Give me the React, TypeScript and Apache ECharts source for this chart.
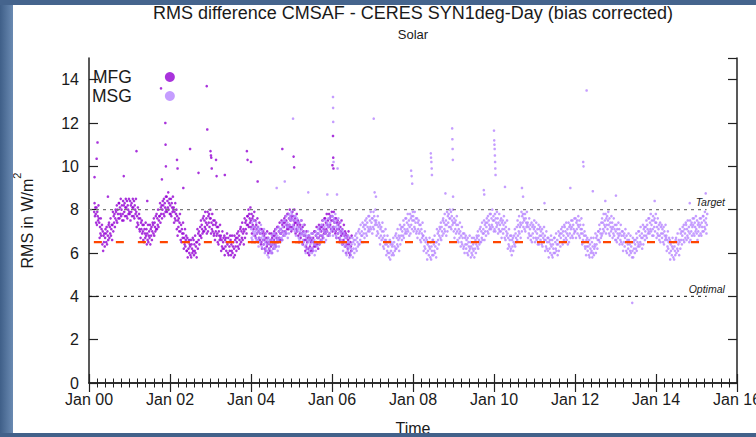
import { useEffect, useRef } from 'react';
import * as echarts from 'echarts';

const TITLE = 'RMS difference CMSAF - CERES SYN1deg-Day (bias corrected)';
const SUBTITLE = 'Solar';
const X_LABEL = 'Time';
const Y_LABEL = '{base|RMS in W/m}{sup|2}';

const TARGET = 8;
const OPTIMAL = 4;
const MEAN = 6.5;
const REF_LINE_YEARS = [2000, 2015.25];
const MFG_MEAN_YEARS = [2000.12, 2006.5];
const MSG_MEAN_YEARS = [2004.0, 2015.22];

// readings spread evenly over [start, end] of each year (about two per week)
const mfg2000 = [
  7.9, 8.3, 7.7, 8.1,
  7.8, 7.4, 8.1, 7.3, 7.9, 7.7, 7.5, 8.2, 7.6,
  7.4, 6.7, 7.2, 6.9, 7.6, 6.8, 7.1, 7.3,
  6.4, 7.0, 6.1, 6.8, 6.5, 6.9, 6.3, 6.7, 7.1,
  6.9, 6.5, 7.2, 6.4, 7.0, 6.8, 6.6, 7.3,
  7.4, 6.7, 7.2, 6.9, 7.6, 6.8, 7.1, 7.3, 6.6,
  7.3, 7.9, 7.0, 7.7, 7.4, 7.8, 7.2, 7.6, 8.0,
  7.9, 7.5, 8.2, 7.4, 8.0, 7.8, 7.6, 8.3,
  8.3, 7.6, 8.1, 7.8, 8.5, 7.7, 8.0, 8.2, 7.5,
  7.8, 8.4, 7.5, 8.2, 7.9, 8.3, 7.7, 8.1, 8.5,
  8.1, 7.7, 8.4, 7.6, 8.2, 8.0, 7.8, 8.5, 7.9,
];
const mfg2001 = [
  7.8, 8.4, 7.5, 8.2, 7.9, 8.3, 7.7, 8.1, 8.5,
  8.1, 7.7, 8.4, 7.6, 8.2, 8.0, 7.8, 8.5,
  7.9, 7.2, 7.7, 7.4, 8.1, 7.3, 7.6, 7.8, 7.1,
  7.0, 7.6, 6.7, 7.4, 7.1, 7.5, 6.9, 7.3,
  7.0, 6.6, 7.3, 6.5, 7.1, 6.9, 6.7, 7.4, 6.8,
  7.1, 6.4, 6.9, 6.6, 7.3, 6.5, 6.8, 7.0,
  6.7, 7.3, 6.4, 7.1, 6.8, 7.2, 6.6, 7.0, 7.4,
  7.3, 6.9, 7.6, 6.8, 7.4, 7.2, 7.0, 7.7, 7.1,
  7.8, 7.1, 7.6, 7.3, 8.0, 7.2, 7.5, 7.7,
  7.7, 8.3, 7.4, 8.1, 7.8, 8.2, 7.6, 8.0, 8.4,
  8.2, 7.8, 8.5, 7.7, 8.3, 8.1, 7.9, 8.6, 8.0,
  8.6, 7.9, 8.4, 8.1, 8.8, 8.0, 8.3, 8.5, 7.8,
];
const mfg2002 = [
  8.2, 7.8, 8.5, 7.7, 8.3, 8.1, 7.9, 8.6, 8.0,
  8.1, 7.4, 7.9, 7.6, 8.3, 7.5, 7.8, 8.0,
  7.1, 7.7, 6.8, 7.5, 7.2, 7.6, 7.0, 7.4, 7.8,
  7.0, 6.6, 7.3, 6.5, 7.1, 6.9, 6.7, 7.4,
  6.9, 6.2, 6.7, 6.4, 7.1, 6.3, 6.6, 6.8, 6.1,
  6.1, 6.7, 5.8, 6.5, 6.2, 6.6, 6.0, 6.4,
  6.3, 5.9, 6.6, 5.8, 6.4, 6.2, 6.0, 6.7, 6.1,
  6.6, 5.9, 6.4, 6.1, 6.8, 6.0, 6.3, 6.5, 5.8,
  6.5, 7.1, 6.2, 6.9, 6.6, 7.0, 6.4, 6.8,
  7.2, 6.8, 7.5, 6.7, 7.3, 7.1, 6.9, 7.6, 7.0,
  7.7, 7.0, 7.5, 7.2, 7.9, 7.1, 7.4, 7.6, 6.9,
  7.3, 7.9, 7.0, 7.7, 7.4, 7.8, 7.2, 7.6, 8.0,
];
const mfg2003 = [
  7.6, 6.9, 7.4, 7.1, 7.8, 7.0, 7.3, 7.5, 6.8,
  6.9, 7.5, 6.6, 7.3, 7.0, 7.4, 6.8, 7.2,
  6.9, 6.5, 7.2, 6.4, 7.0, 6.8, 6.6, 7.3, 6.7,
  6.8, 6.1, 6.6, 6.3, 7.0, 6.2, 6.5, 6.7,
  6.2, 6.8, 5.9, 6.6, 6.3, 6.7, 6.1, 6.5, 6.9,
  6.4, 6.0, 6.7, 5.9, 6.5, 6.3, 6.1, 6.8,
  6.6, 5.9, 6.4, 6.1, 6.8, 6.0, 6.3, 6.5, 5.8,
  6.2, 6.8, 5.9, 6.6, 6.3, 6.7, 6.1, 6.5, 6.9,
  6.7, 6.3, 7.0, 6.2, 6.8, 6.6, 6.4, 7.1,
  7.2, 6.5, 7.0, 6.7, 7.4, 6.6, 6.9, 7.1, 6.4,
  7.0, 7.6, 6.7, 7.4, 7.1, 7.5, 6.9, 7.3, 7.7,
  7.7, 7.3, 8.0, 7.2, 7.8, 7.6, 7.4, 8.1, 7.5,
];
const mfg2004 = [
  7.2, 7.8, 6.9, 7.6, 7.3, 7.7, 7.1, 7.5, 7.9,
  7.2, 6.8, 7.5, 6.7, 7.3, 7.1, 6.9, 7.6,
  7.2, 6.5, 7.0, 6.7, 7.4, 6.6, 6.9, 7.1, 6.4,
  6.5, 7.1, 6.2, 6.9, 6.6, 7.0, 6.4, 6.8,
  6.6, 6.2, 6.9, 6.1, 6.7, 6.5, 6.3, 7.0, 6.4,
  6.7, 6.0, 6.5, 6.2, 6.9, 6.1, 6.4, 6.6,
  6.3, 6.9, 6.0, 6.7, 6.4, 6.8, 6.2, 6.6, 7.0,
  6.8, 6.4, 7.1, 6.3, 6.9, 6.7, 6.5, 7.2, 6.6,
  7.2, 6.5, 7.0, 6.7, 7.4, 6.6, 6.9, 7.1,
  6.9, 7.5, 6.6, 7.3, 7.0, 7.4, 6.8, 7.2, 7.6,
  7.4, 7.0, 7.7, 6.9, 7.5, 7.3, 7.1, 7.8, 7.2,
  7.8, 7.1, 7.6, 7.3, 8.0, 7.2, 7.5, 7.7, 7.0,
];
const mfg2005 = [
  7.6, 7.2, 7.9, 7.1, 7.7, 7.5, 7.3, 8.0, 7.4,
  7.6, 6.9, 7.4, 7.1, 7.8, 7.0, 7.3, 7.5,
  6.8, 7.4, 6.5, 7.2, 6.9, 7.3, 6.7, 7.1, 7.5,
  6.9, 6.5, 7.2, 6.4, 7.0, 6.8, 6.6, 7.3,
  6.8, 6.1, 6.6, 6.3, 7.0, 6.2, 6.5, 6.7, 6.0,
  6.2, 6.8, 5.9, 6.6, 6.3, 6.7, 6.1, 6.5,
  6.6, 6.2, 6.9, 6.1, 6.7, 6.5, 6.3, 7.0, 6.4,
  7.0, 6.3, 6.8, 6.5, 7.2, 6.4, 6.7, 6.9, 6.2,
  6.7, 7.3, 6.4, 7.1, 6.8, 7.2, 6.6, 7.0,
  7.2, 6.8, 7.5, 6.7, 7.3, 7.1, 6.9, 7.6, 7.0,
  7.6, 6.9, 7.4, 7.1, 7.8, 7.0, 7.3, 7.5, 6.8,
  7.2, 7.8, 6.9, 7.6, 7.3, 7.7, 7.1, 7.5, 7.9,
];
const mfg2006 = [
  7.7, 7.0, 7.5, 7.2, 7.9, 7.1, 7.4, 7.6, 6.9,
  7.0, 7.6, 6.7, 7.4, 7.1, 7.5, 6.9, 7.3,
  7.1, 6.7, 7.4, 6.6, 7.2, 7.0, 6.8, 7.5, 6.9,
  7.1, 6.4, 6.9, 6.6, 7.3, 6.5, 6.8, 7.0,
  6.3, 6.9, 6.0, 6.7, 6.4, 6.8, 6.2, 6.6, 7.0,
  6.4, 6.0, 6.7, 5.9, 6.5, 6.3, 6.1, 6.8,
];

const msg2004 = [
  7.1, 6.7, 7.4, 6.6, 7.2, 7.0, 6.8, 7.5, 6.9,
  7.2, 6.5, 7.0, 6.7, 7.4, 6.6, 6.9, 7.1,
  6.6, 7.2, 6.3, 7.0, 6.7, 7.1, 6.5, 6.9, 7.3,
  6.7, 6.3, 7.0, 6.2, 6.8, 6.6, 6.4, 7.1,
  6.7, 6.0, 6.5, 6.2, 6.9, 6.1, 6.4, 6.6, 5.9,
  6.1, 6.7, 5.8, 6.5, 6.2, 6.6, 6.0, 6.4,
  6.5, 6.1, 6.8, 6.0, 6.6, 6.4, 6.2, 6.9, 6.3,
  6.9, 6.2, 6.7, 6.4, 7.1, 6.3, 6.6, 6.8, 6.1,
  6.6, 7.2, 6.3, 7.0, 6.7, 7.1, 6.5, 6.9,
  7.1, 6.7, 7.4, 6.6, 7.2, 7.0, 6.8, 7.5, 6.9,
  7.5, 6.8, 7.3, 7.0, 7.7, 6.9, 7.2, 7.4, 6.7,
  7.2, 7.8, 6.9, 7.6, 7.3, 7.7, 7.1, 7.5, 7.9,
];
const msg2005 = [
  7.8, 7.1, 7.6, 7.3, 8.0, 7.2, 7.5, 7.7, 7.0,
  7.1, 7.7, 6.8, 7.5, 7.2, 7.6, 7.0, 7.4,
  7.1, 6.7, 7.4, 6.6, 7.2, 7.0, 6.8, 7.5, 6.9,
  7.1, 6.4, 6.9, 6.6, 7.3, 6.5, 6.8, 7.0,
  6.3, 6.9, 6.0, 6.7, 6.4, 6.8, 6.2, 6.6, 7.0,
  6.5, 6.1, 6.8, 6.0, 6.6, 6.4, 6.2, 6.9,
  6.7, 6.0, 6.5, 6.2, 6.9, 6.1, 6.4, 6.6, 5.9,
  6.4, 7.0, 6.1, 6.8, 6.5, 6.9, 6.3, 6.7, 7.1,
  6.9, 6.5, 7.2, 6.4, 7.0, 6.8, 6.6, 7.3,
  7.3, 6.6, 7.1, 6.8, 7.5, 6.7, 7.0, 7.2, 6.5,
  6.9, 7.5, 6.6, 7.3, 7.0, 7.4, 6.8, 7.2, 7.6,
  7.3, 6.9, 7.6, 6.8, 7.4, 7.2, 7.0, 7.7, 7.1,
];
const msg2006 = [
  7.1, 7.7, 6.8, 7.5, 7.2, 7.6, 7.0, 7.4, 7.8,
  7.2, 6.8, 7.5, 6.7, 7.3, 7.1, 6.9, 7.6,
  7.2, 6.5, 7.0, 6.7, 7.4, 6.6, 6.9, 7.1, 6.4,
  6.4, 7.0, 6.1, 6.8, 6.5, 6.9, 6.3, 6.7,
  6.4, 6.0, 6.7, 5.9, 6.5, 6.3, 6.1, 6.8, 6.2,
  6.5, 5.8, 6.3, 6.0, 6.7, 5.9, 6.2, 6.4,
  6.1, 6.7, 5.8, 6.5, 6.2, 6.6, 6.0, 6.4, 6.8,
  6.6, 6.2, 6.9, 6.1, 6.7, 6.5, 6.3, 7.0, 6.4,
  7.1, 6.4, 6.9, 6.6, 7.3, 6.5, 6.8, 7.0,
  6.8, 7.4, 6.5, 7.2, 6.9, 7.3, 6.7, 7.1, 7.5,
  7.3, 6.9, 7.6, 6.8, 7.4, 7.2, 7.0, 7.7, 7.1,
  7.7, 7.0, 7.5, 7.2, 7.9, 7.1, 7.4, 7.6, 6.9,
];
const msg2007 = [
  7.6, 7.2, 7.9, 7.1, 7.7, 7.5, 7.3, 8.0, 7.4,
  7.5, 6.8, 7.3, 7.0, 7.7, 6.9, 7.2, 7.4,
  6.7, 7.3, 6.4, 7.1, 6.8, 7.2, 6.6, 7.0, 7.4,
  6.7, 6.3, 7.0, 6.2, 6.8, 6.6, 6.4, 7.1,
  6.6, 5.9, 6.4, 6.1, 6.8, 6.0, 6.3, 6.5, 5.8,
  6.0, 6.6, 5.7, 6.4, 6.1, 6.5, 5.9, 6.3,
  6.4, 6.0, 6.7, 5.9, 6.5, 6.3, 6.1, 6.8, 6.2,
  6.9, 6.2, 6.7, 6.4, 7.1, 6.3, 6.6, 6.8, 6.1,
  6.7, 7.3, 6.4, 7.1, 6.8, 7.2, 6.6, 7.0,
  7.2, 6.8, 7.5, 6.7, 7.3, 7.1, 6.9, 7.6, 7.0,
  7.6, 6.9, 7.4, 7.1, 7.8, 7.0, 7.3, 7.5, 6.8,
  7.2, 7.8, 6.9, 7.6, 7.3, 7.7, 7.1, 7.5, 7.9,
];
const msg2008 = [
  7.7, 7.0, 7.5, 7.2, 7.9, 7.1, 7.4, 7.6, 6.9,
  7.0, 7.6, 6.7, 7.4, 7.1, 7.5, 6.9, 7.3,
  7.0, 6.6, 7.3, 6.5, 7.1, 6.9, 6.7, 7.4, 6.8,
  6.8, 6.1, 6.6, 6.3, 7.0, 6.2, 6.5, 6.7,
  6.0, 6.6, 5.7, 6.4, 6.1, 6.5, 5.9, 6.3, 6.7,
  6.2, 5.8, 6.5, 5.7, 6.3, 6.1, 5.9, 6.6,
  6.6, 5.9, 6.4, 6.1, 6.8, 6.0, 6.3, 6.5, 5.8,
  6.5, 7.1, 6.2, 6.9, 6.6, 7.0, 6.4, 6.8, 7.2,
  7.1, 6.7, 7.4, 6.6, 7.2, 7.0, 6.8, 7.5,
  7.6, 6.9, 7.4, 7.1, 7.8, 7.0, 7.3, 7.5, 6.8,
  7.3, 7.9, 7.0, 7.7, 7.4, 7.8, 7.2, 7.6, 8.0,
  7.6, 7.2, 7.9, 7.1, 7.7, 7.5, 7.3, 8.0, 7.4,
];
const msg2009 = [
  7.0, 7.6, 6.7, 7.4, 7.1, 7.5, 6.9, 7.3, 7.7,
  7.0, 6.6, 7.3, 6.5, 7.1, 6.9, 6.7, 7.4,
  7.0, 6.3, 6.8, 6.5, 7.2, 6.4, 6.7, 6.9, 6.2,
  6.3, 6.9, 6.0, 6.7, 6.4, 6.8, 6.2, 6.6,
  6.4, 6.0, 6.7, 5.9, 6.5, 6.3, 6.1, 6.8, 6.2,
  6.5, 5.8, 6.3, 6.0, 6.7, 5.9, 6.2, 6.4,
  6.1, 6.7, 5.8, 6.5, 6.2, 6.6, 6.0, 6.4, 6.8,
  6.7, 6.3, 7.0, 6.2, 6.8, 6.6, 6.4, 7.1, 6.5,
  7.2, 6.5, 7.0, 6.7, 7.4, 6.6, 6.9, 7.1,
  6.9, 7.5, 6.6, 7.3, 7.0, 7.4, 6.8, 7.2, 7.6,
  7.4, 7.0, 7.7, 6.9, 7.5, 7.3, 7.1, 7.8, 7.2,
  7.8, 7.1, 7.6, 7.3, 8.0, 7.2, 7.5, 7.7, 7.0,
];
const msg2010 = [
  7.5, 7.1, 7.8, 7.0, 7.6, 7.4, 7.2, 7.9, 7.3,
  7.6, 6.9, 7.4, 7.1, 7.8, 7.0, 7.3, 7.5,
  7.0, 7.6, 6.7, 7.4, 7.1, 7.5, 6.9, 7.3, 7.7,
  7.1, 6.7, 7.4, 6.6, 7.2, 7.0, 6.8, 7.5,
  6.9, 6.2, 6.7, 6.4, 7.1, 6.3, 6.6, 6.8, 6.1,
  6.2, 6.8, 5.9, 6.6, 6.3, 6.7, 6.1, 6.5,
  6.8, 6.4, 7.1, 6.3, 6.9, 6.7, 6.5, 7.2, 6.6,
  7.5, 6.8, 7.3, 7.0, 7.7, 6.9, 7.2, 7.4, 6.7,
  7.3, 7.9, 7.0, 7.7, 7.4, 7.8, 7.2, 7.6,
  7.5, 7.1, 7.8, 7.0, 7.6, 7.4, 7.2, 7.9, 7.3,
  7.4, 6.7, 7.2, 6.9, 7.6, 6.8, 7.1, 7.3, 6.6,
  6.8, 7.4, 6.5, 7.2, 6.9, 7.3, 6.7, 7.1, 7.5,
];
const msg2011 = [
  7.2, 6.5, 7.0, 6.7, 7.4, 6.6, 6.9, 7.1, 6.4,
  6.7, 7.3, 6.4, 7.1, 6.8, 7.2, 6.6, 7.0,
  6.8, 6.4, 7.1, 6.3, 6.9, 6.7, 6.5, 7.2, 6.6,
  6.8, 6.1, 6.6, 6.3, 7.0, 6.2, 6.5, 6.7,
  6.1, 6.7, 5.8, 6.5, 6.2, 6.6, 6.0, 6.4, 6.8,
  6.3, 5.9, 6.6, 5.8, 6.4, 6.2, 6.0, 6.7,
  6.7, 6.0, 6.5, 6.2, 6.9, 6.1, 6.4, 6.6, 5.9,
  6.4, 7.0, 6.1, 6.8, 6.5, 6.9, 6.3, 6.7, 7.1,
  6.9, 6.5, 7.2, 6.4, 7.0, 6.8, 6.6, 7.3,
  7.2, 6.5, 7.0, 6.7, 7.4, 6.6, 6.9, 7.1, 6.4,
  6.8, 7.4, 6.5, 7.2, 6.9, 7.3, 6.7, 7.1, 7.5,
  7.2, 6.8, 7.5, 6.7, 7.3, 7.1, 6.9, 7.6, 7.0,
];
const msg2012 = [
  7.0, 7.6, 6.7, 7.4, 7.1, 7.5, 6.9, 7.3, 7.7,
  7.2, 6.8, 7.5, 6.7, 7.3, 7.1, 6.9, 7.6,
  7.1, 6.4, 6.9, 6.6, 7.3, 6.5, 6.8, 7.0, 6.3,
  6.2, 6.8, 5.9, 6.6, 6.3, 6.7, 6.1, 6.5,
  6.3, 5.9, 6.6, 5.8, 6.4, 6.2, 6.0, 6.7, 6.1,
  6.5, 5.8, 6.3, 6.0, 6.7, 5.9, 6.2, 6.4,
  6.3, 6.9, 6.0, 6.7, 6.4, 6.8, 6.2, 6.6, 7.0,
  7.0, 6.6, 7.3, 6.5, 7.1, 6.9, 6.7, 7.4, 6.8,
  7.6, 6.9, 7.4, 7.1, 7.8, 7.0, 7.3, 7.5,
  7.2, 7.8, 6.9, 7.6, 7.3, 7.7, 7.1, 7.5, 7.9,
  7.3, 6.9, 7.6, 6.8, 7.4, 7.2, 7.0, 7.7, 7.1,
  7.4, 6.7, 7.2, 6.9, 7.6, 6.8, 7.1, 7.3, 6.6,
];
const msg2013 = [
  7.0, 6.6, 7.3, 6.5, 7.1, 6.9, 6.7, 7.4, 6.8,
  7.1, 6.4, 6.9, 6.6, 7.3, 6.5, 6.8, 7.0,
  6.4, 7.0, 6.1, 6.8, 6.5, 6.9, 6.3, 6.7, 7.1,
  6.5, 6.1, 6.8, 6.0, 6.6, 6.4, 6.2, 6.9,
  6.6, 5.9, 6.4, 6.1, 6.8, 6.0, 6.3, 6.5, 5.8,
  6.1, 6.7, 5.8, 6.5, 6.2, 6.6, 6.0, 6.4,
  6.6, 6.2, 6.9, 6.1, 6.7, 6.5, 6.3, 7.0, 6.4,
  7.0, 6.3, 6.8, 6.5, 7.2, 6.4, 6.7, 6.9, 6.2,
  6.7, 7.3, 6.4, 7.1, 6.8, 7.2, 6.6, 7.0,
  7.2, 6.8, 7.5, 6.7, 7.3, 7.1, 6.9, 7.6, 7.0,
  7.6, 6.9, 7.4, 7.1, 7.8, 7.0, 7.3, 7.5, 6.8,
  7.1, 7.7, 6.8, 7.5, 7.2, 7.6, 7.0, 7.4, 7.8,
];
const msg2014 = [
  7.4, 6.7, 7.2, 6.9, 7.6, 6.8, 7.1, 7.3, 6.6,
  6.8, 7.4, 6.5, 7.2, 6.9, 7.3, 6.7, 7.1,
  6.9, 6.5, 7.2, 6.4, 7.0, 6.8, 6.6, 7.3, 6.7,
  6.8, 6.1, 6.6, 6.3, 7.0, 6.2, 6.5, 6.7,
  6.0, 6.6, 5.7, 6.4, 6.1, 6.5, 5.9, 6.3, 6.7,
  6.2, 5.8, 6.5, 5.7, 6.3, 6.1, 5.9, 6.6,
  6.7, 6.0, 6.5, 6.2, 6.9, 6.1, 6.4, 6.6, 5.9,
  6.5, 7.1, 6.2, 6.9, 6.6, 7.0, 6.4, 6.8, 7.2,
  7.0, 6.6, 7.3, 6.5, 7.1, 6.9, 6.7, 7.4,
  7.3, 6.6, 7.1, 6.8, 7.5, 6.7, 7.0, 7.2, 6.5,
  6.9, 7.5, 6.6, 7.3, 7.0, 7.4, 6.8, 7.2, 7.6,
  7.3, 6.9, 7.6, 6.8, 7.4, 7.2, 7.0, 7.7, 7.1,
];
const msg2015 = [
  6.9, 7.5, 6.6, 7.3, 7.0, 7.4, 6.8, 7.2, 7.6,
  7.3, 6.9, 7.6, 6.8, 7.4, 7.2, 7.0, 7.7,
  7.7, 7.0, 7.5, 7.2, 7.9, 7.1, 7.4, 7.6, 6.9,
  7.3, 7.8,
];

// isolated points: [date, value]
const mfgOutliers: [string, number][] = [
  ['2000-02-20', 9.5], ['2000-03-10', 10.35], ['2000-03-18', 11.1], ['2000-06-20', 8.6],
  ['2000-11-10', 9.55], ['2001-03-05', 10.7], ['2001-06-10', 8.4], ['2001-10-12', 13.6],
  ['2001-10-20', 9.4], ['2001-11-20', 12.0], ['2001-11-22', 11.0], ['2001-11-25', 10.0],
  ['2002-03-05', 10.3], ['2002-03-10', 9.9], ['2002-05-01', 9.0], ['2002-07-01', 10.8],
  ['2002-09-15', 9.7], ['2002-11-28', 13.7], ['2002-12-03', 11.7], ['2003-01-01', 10.7],
  ['2003-01-05', 10.5], ['2003-01-08', 10.4], ['2003-01-12', 9.9], ['2003-02-20', 10.3],
  ['2003-02-25', 9.55], ['2003-05-10', 9.6], ['2003-11-25', 10.7], ['2003-12-01', 10.3],
  ['2004-01-01', 10.2], ['2004-03-01', 9.3], ['2004-10-10', 10.8], ['2005-01-20', 10.45],
  ['2005-01-25', 9.95], ['2006-01-05', 10.05], ['2006-01-10', 11.4], ['2006-01-12', 10.4],
  ['2006-01-14', 9.9],
];
const msgOutliers: [string, number][] = [
  ['2004-08-20', 9.0], ['2004-11-01', 9.3], ['2005-01-15', 12.2], ['2005-06-01', 8.8],
  ['2005-11-20', 8.7], ['2006-01-10', 13.2], ['2006-01-11', 12.7], ['2006-01-12', 12.05],
  ['2006-01-15', 10.2], ['2006-02-15', 8.7], ['2006-02-20', 9.9], ['2007-01-12', 12.2],
  ['2007-01-20', 8.8], ['2007-02-01', 8.6], ['2007-12-15', 9.8], ['2007-12-20', 9.55],
  ['2007-12-25', 9.2], ['2008-06-10', 10.6], ['2008-06-12', 10.4], ['2008-06-15', 10.2],
  ['2008-06-18', 9.9], ['2008-06-20', 9.6], ['2008-10-20', 8.75], ['2008-12-20', 11.75],
  ['2008-12-22', 11.25], ['2008-12-24', 10.8], ['2008-12-26', 10.3], ['2008-12-28', 8.6],
  ['2009-10-01', 8.9], ['2009-10-05', 8.7], ['2010-01-01', 11.65], ['2010-01-03', 11.2],
  ['2010-01-05', 11.0], ['2010-01-07', 10.8], ['2010-01-09', 10.5], ['2010-01-11', 10.2],
  ['2010-01-13', 9.9], ['2010-01-15', 9.6], ['2010-04-10', 9.05], ['2010-09-10', 9.0],
  ['2010-09-20', 8.6], ['2011-04-01', 8.3], ['2011-11-20', 9.0], ['2012-03-15', 10.2],
  ['2012-03-18', 10.0], ['2012-04-15', 13.5], ['2012-06-10', 8.85], ['2012-10-01', 8.4],
  ['2013-01-05', 8.65], ['2013-06-01', 3.7], ['2013-12-20', 8.4], ['2014-11-01', 8.3],
  ['2015-03-25', 8.75],
];

const toYear = (d: string) => {
  const [y, m, dd] = d.split('-').map(Number);
  const t0 = Date.UTC(y, 0, 1);
  const t1 = Date.UTC(y + 1, 0, 1);
  return y + (Date.UTC(y, m - 1, dd) - t0) / (t1 - t0);
};
const span = (year: number, a: number, b: number, vals: number[]) =>
  vals.map((v, i) => [year + a + ((b - a) * (i + 0.5)) / vals.length, v]);

const mfgData = [
  ...span(2000, 0.123, 1, mfg2000), ...span(2001, 0, 1, mfg2001), ...span(2002, 0, 1, mfg2002),
  ...span(2003, 0, 1, mfg2003), ...span(2004, 0, 1, mfg2004), ...span(2005, 0, 1, mfg2005),
  ...span(2006, 0, 0.49, mfg2006),
  ...mfgOutliers.map(([d, v]) => [toYear(d), v]),
];
const msgData = [
  ...span(2004, 0, 1, msg2004), ...span(2005, 0, 1, msg2005), ...span(2006, 0, 1, msg2006),
  ...span(2007, 0, 1, msg2007), ...span(2008, 0, 1, msg2008), ...span(2009, 0, 1, msg2009),
  ...span(2010, 0, 1, msg2010), ...span(2011, 0, 1, msg2011), ...span(2012, 0, 1, msg2012),
  ...span(2013, 0, 1, msg2013), ...span(2014, 0, 1, msg2014), ...span(2015, 0, 0.27, msg2015),
  ...msgOutliers.map(([d, v]) => [toYear(d), v]),
];

const FONT = 'Liberation Sans, Arial, Helvetica, sans-serif';
const AXIS_COLOR = '#222';
const TEXT_COLOR = '#1a1a1a';
const MFG_COLOR = '#9400d3';
const MSG_COLOR = '#b784ff';

export default function App() {
  const ref = useRef<HTMLDivElement>(null);
  useEffect(() => {
    if (!ref.current) return;
    const chart = echarts.init(ref.current, undefined, { renderer: 'svg' });
    const axisLine = { show: true, lineStyle: { color: AXIS_COLOR, width: 1.5 } };
    const xCommon = {
      type: 'value', min: 2000, max: 2016, interval: 2,
      axisLine, splitLine: { show: false },
      axisTick: { show: true, inside: true, length: 9, lineStyle: { color: AXIS_COLOR, width: 1.2 } },
      minorTick: { show: true, splitNumber: 10, length: 4.5, lineStyle: { color: AXIS_COLOR, width: 1 } },
    };
    const yCommon = {
      type: 'value', min: 0, max: 15, interval: 2,
      axisLine, splitLine: { show: false },
      axisTick: { show: true, inside: true, length: 9, lineStyle: { color: AXIS_COLOR, width: 1.2 } },
    };
    const refLine = (name: string, val: number, years: number[], color: string, width: number, dash: number[], label?: { text: string; dx: number }) => ({
      name, type: 'line', xAxisIndex: 0, yAxisIndex: 0, silent: true,
      symbol: 'circle', symbolSize: 0, showSymbol: true,
      lineStyle: { color, width, type: dash },
      itemStyle: { color },
      z: 3,
      data: [
        [years[0], val],
        label
          ? { value: [years[1], val], label: { show: true, formatter: label.text, position: [label.dx, -13], color: '#222', fontSize: 10.5, fontStyle: 'italic', fontFamily: FONT } }
          : [years[1], val],
      ],
    });
    chart.setOption({
      animation: false,
      backgroundColor: '#ffffff',
      title: {
        text: TITLE, subtext: SUBTITLE, left: 413, top: 4, textAlign: 'center', padding: 0, itemGap: 6,
        textStyle: { fontFamily: FONT, fontSize: 18, fontWeight: 'normal', color: TEXT_COLOR },
        subtextStyle: { fontFamily: FONT, fontSize: 13, color: TEXT_COLOR },
      },
      legend: {
        left: 92, top: 68, padding: 0, orient: 'vertical', align: 'right', itemGap: 1,
        itemWidth: 10, itemHeight: 10, icon: 'circle',
        textStyle: { fontFamily: FONT, fontSize: 17.5, color: TEXT_COLOR, padding: [0, 28, 0, 0] },
        data: ['MFG', 'MSG'],
      },
      grid: { left: 89, right: 19, top: 58, bottom: 54, containLabel: false, outerBoundsMode: 'none' },
      xAxis: [
        {
          ...xCommon, position: 'bottom', name: X_LABEL, nameLocation: 'middle', nameGap: 37,
          nameTextStyle: { fontFamily: FONT, fontSize: 16, color: TEXT_COLOR },
          axisLabel: { fontFamily: FONT, fontSize: 16, color: TEXT_COLOR, margin: 8, formatter: (v: number) => 'Jan ' + String(Math.round(v) % 100).padStart(2, '0') },
        },
        { ...xCommon, position: 'top', axisLabel: { show: false } },
      ],
      yAxis: [
        {
          ...yCommon, position: 'left', name: Y_LABEL, nameLocation: 'middle', nameGap: 54,
          nameTextStyle: {
            fontFamily: FONT, color: TEXT_COLOR,
            rich: {
              base: { fontFamily: FONT, fontSize: 16, color: TEXT_COLOR, verticalAlign: 'bottom', lineHeight: 24 },
              sup: { fontFamily: FONT, fontSize: 11, color: TEXT_COLOR, verticalAlign: 'top', lineHeight: 24 },
            },
          },
          axisLabel: { fontFamily: FONT, fontSize: 16, color: TEXT_COLOR, margin: 10, showMaxLabel: false },
        },
        { ...yCommon, position: 'right', axisLabel: { show: false } },
      ],
      graphic: [
        { type: 'rect', left: 0, top: 0, shape: { width: 13, height: 437 }, style: { fill: new echarts.graphic.LinearGradient(0, 0, 1, 0, [{ offset: 0, color: '#3f5f88' }, { offset: 1, color: '#6a8ab2' }]) }, z: 100 },
        { type: 'rect', left: 0, top: 0, shape: { width: 756, height: 5 }, style: { fill: '#45648d' }, z: 100 },
        { type: 'rect', left: 0, top: 433, shape: { width: 756, height: 4 }, style: { fill: '#42618a' }, z: 100 },
      ],
      series: [
        {
          name: 'MFG', type: 'scatter', xAxisIndex: 0, yAxisIndex: 0, symbolSize: 2.6,
          itemStyle: { color: MFG_COLOR }, data: mfgData, z: 2,
        },
        {
          name: 'MSG', type: 'scatter', xAxisIndex: 0, yAxisIndex: 0, symbolSize: 2.6,
          itemStyle: { color: MSG_COLOR }, data: msgData, z: 2,
        },
        refLine('Target', TARGET, REF_LINE_YEARS, '#777', 1.3, [3, 4], { text: 'Target', dx: -11 }),
        refLine('Optimal', OPTIMAL, REF_LINE_YEARS, '#111', 1, [3, 4], { text: 'Optimal', dx: -18 }),
        refLine('MFG mean', MEAN, MFG_MEAN_YEARS, '#ff4500', 2.2, [8, 14]),
        refLine('MSG mean', MEAN, MSG_MEAN_YEARS, '#ff4500', 2.2, [8, 14]),
      ],
    });
    return () => chart.dispose();
  }, []);
  return <div ref={ref} style={{ position: 'fixed', left: 0, top: 0, width: 756, height: 437 }} />;
}
